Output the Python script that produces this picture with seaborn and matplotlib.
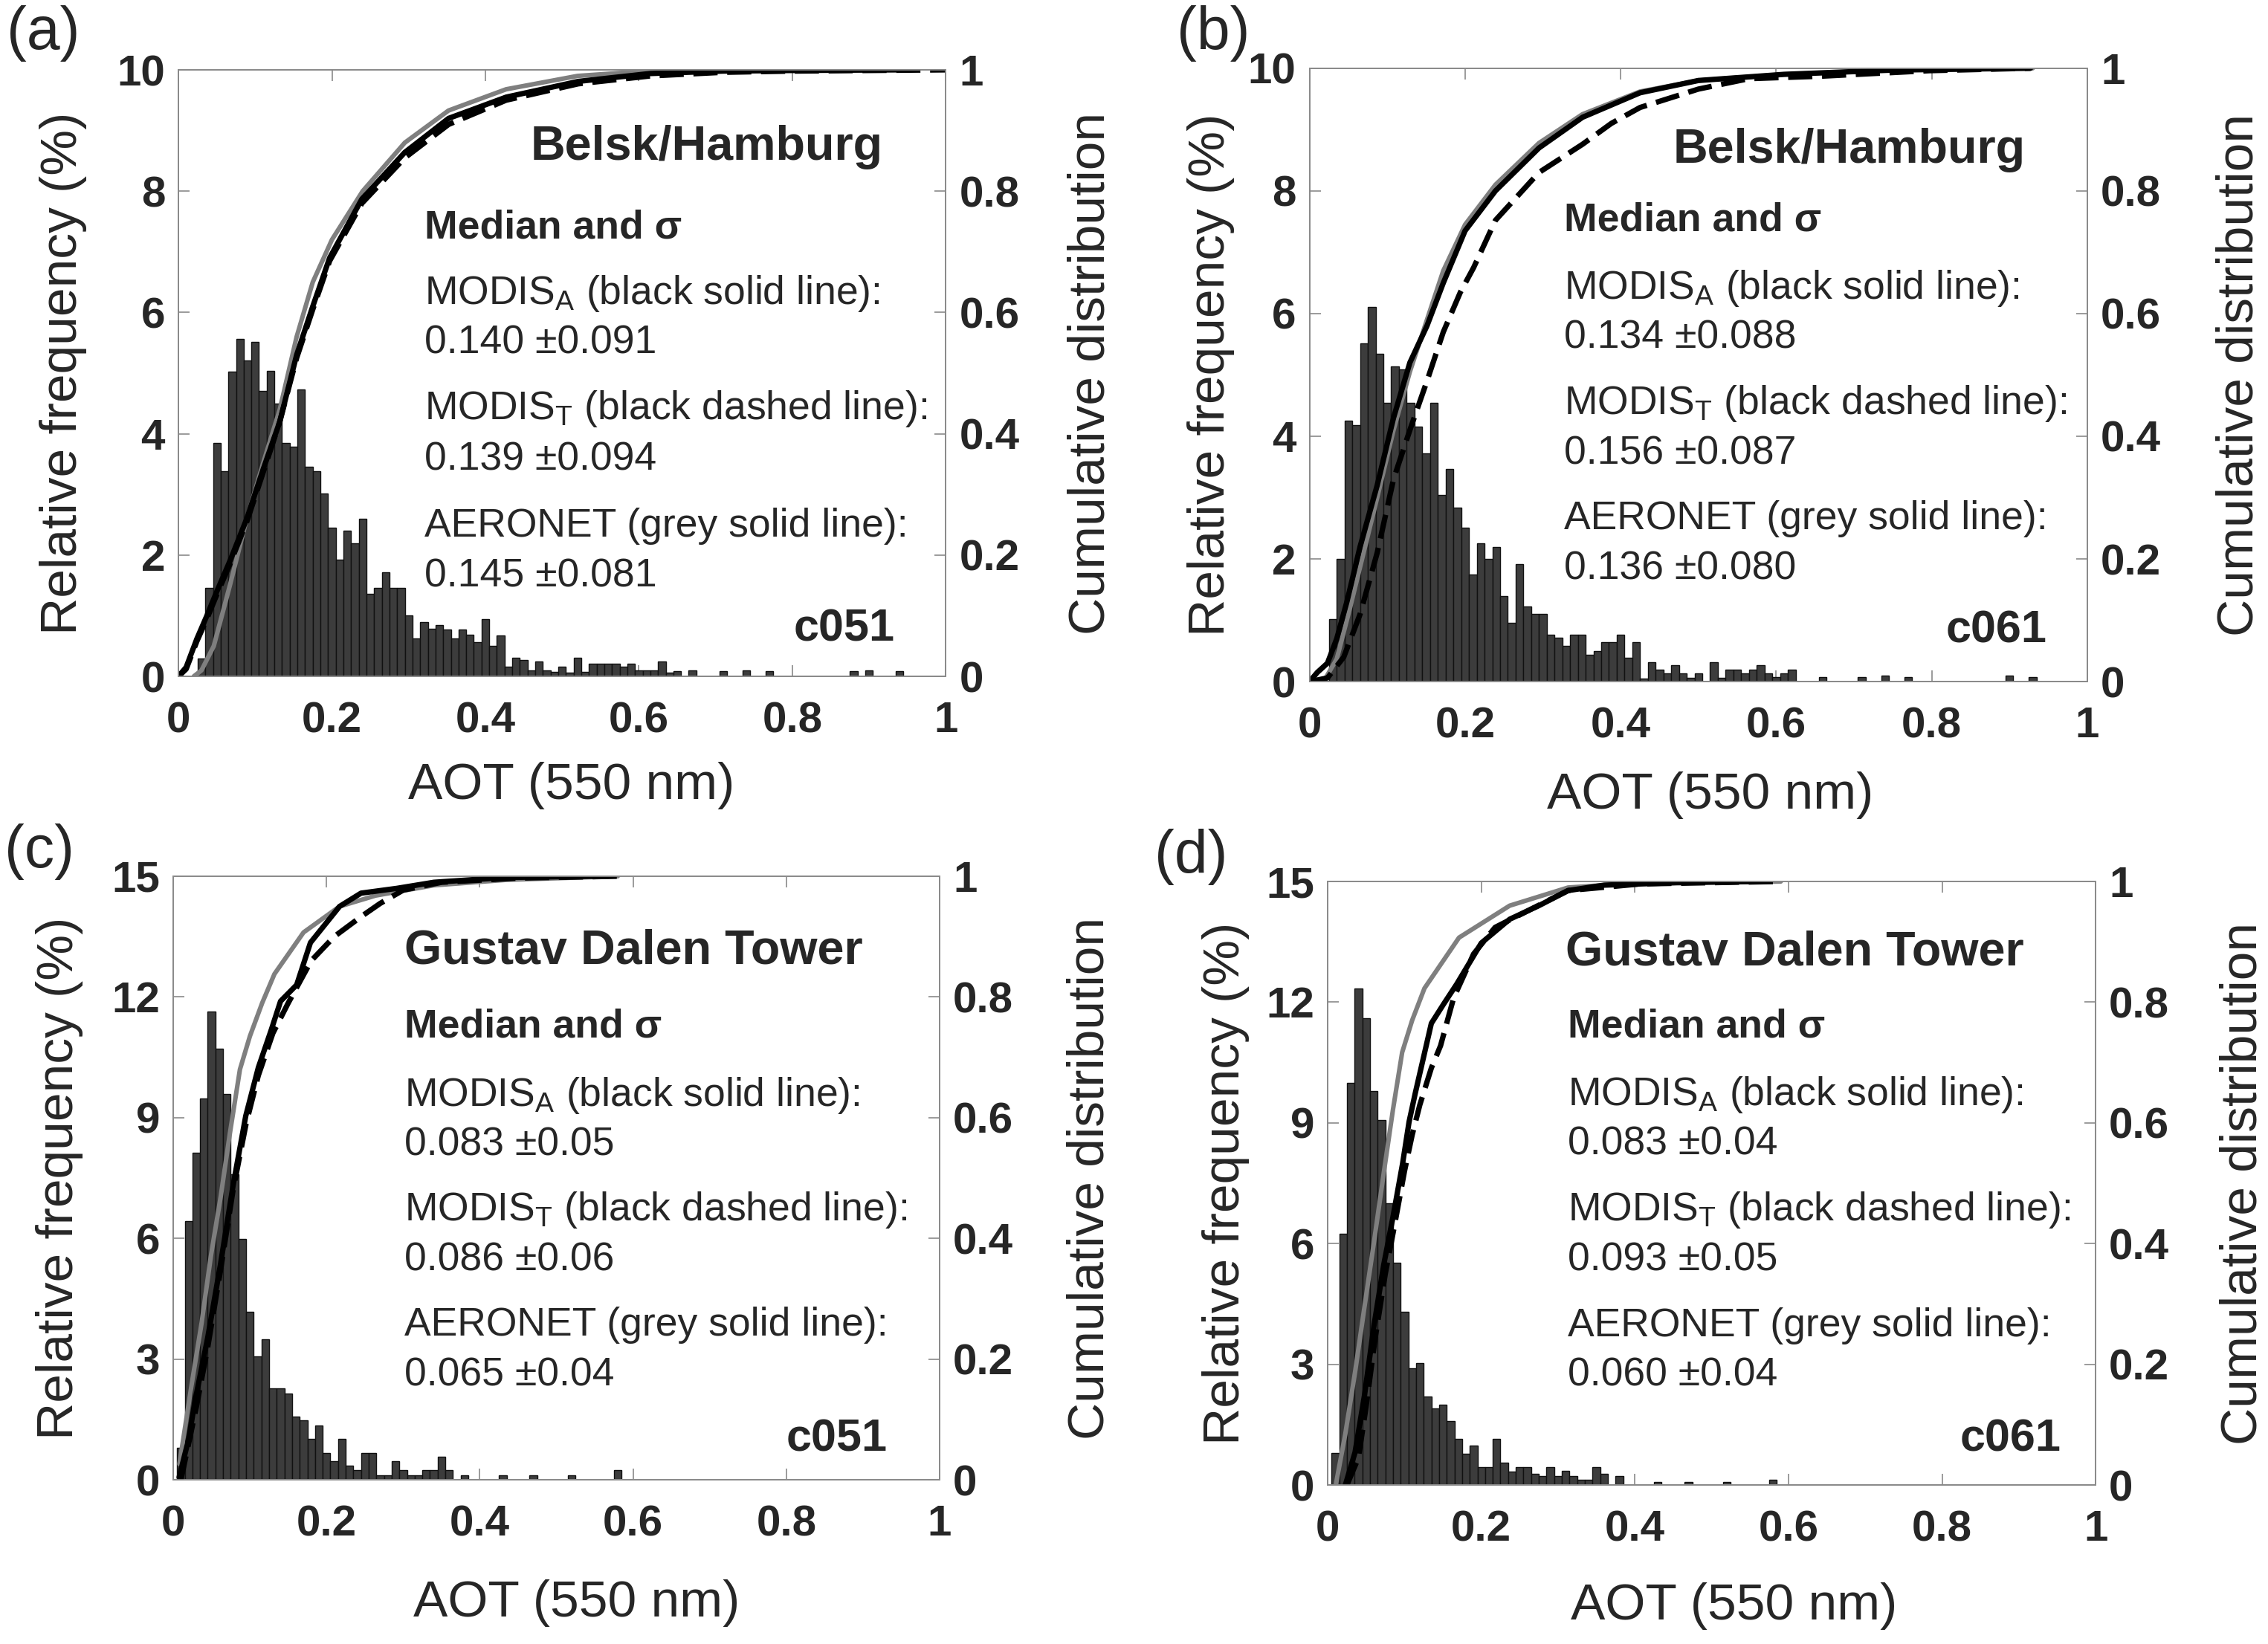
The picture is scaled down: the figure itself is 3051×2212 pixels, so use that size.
import numpy as np
import pandas as pd
import matplotlib
matplotlib.use("Agg")
import matplotlib.pyplot as plt
import seaborn as sns

sns.set_theme(style="white")
plt.rcParams['font.family'] = ['Liberation Sans', 'DejaVu Sans']
plt.rcParams['mathtext.fontset'] = 'custom'
plt.rcParams['mathtext.rm'] = 'Liberation Sans'
plt.rcParams['mathtext.it'] = 'Liberation Sans:italic'
plt.rcParams['mathtext.bf'] = 'Liberation Sans:bold'

# ---------------- data ----------------
# histogram: relative frequency (%) per 0.01 AOT bin (bin centres)
a_first_bin = 0.03
a_freq = [0.30, 1.46, 3.85, 3.38, 5.03, 5.56, 5.21, 5.52, 4.70, 5.04, 4.50, 3.85, 3.79, 4.73,
          3.45, 3.38, 3.01, 2.45, 1.92, 2.40, 2.19, 2.60, 1.36, 1.46, 1.71, 1.46, 1.46, 1.00,
          0.63, 0.89, 0.78, 0.84, 0.77, 0.62, 0.77, 0.69, 0.56, 0.94, 0.50, 0.68, 0.16, 0.31,
          0.27, 0.10, 0.25, 0.10, 0.07, 0.16, 0.06, 0.31, 0.07, 0.21, 0.21, 0.21, 0.21, 0.16,
          0.21, 0.10, 0.10, 0.10, 0.25, 0.06]
a_tail_aot = [0.65, 0.67, 0.71, 0.74, 0.77, 0.88, 0.90, 0.94]
a_tail_freq = [0.08, 0.10, 0.08, 0.10, 0.08, 0.08, 0.10, 0.08]

b_first_bin = 0.03
b_freq = [1.02, 2.00, 4.25, 4.18, 5.51, 6.11, 5.34, 4.55, 5.14, 5.09, 4.55, 4.16, 3.72, 4.55,
          3.04, 3.47, 2.84, 2.51, 1.75, 2.26, 2.00, 2.19, 1.40, 0.96, 1.92, 1.23, 1.10, 1.10,
          0.76, 0.71, 0.58, 0.76, 0.76, 0.44, 0.50, 0.64, 0.64, 0.76, 0.39, 0.64, 0.05, 0.32,
          0.19, 0.13, 0.27, 0.13, 0.06, 0.13, 0.00, 0.32, 0.06, 0.19, 0.19, 0.13, 0.19, 0.27,
          0.13, 0.07, 0.13, 0.19]
b_tail_aot = [0.66, 0.71, 0.74, 0.77, 0.90, 0.93]
b_tail_freq = [0.07, 0.07, 0.10, 0.07, 0.10, 0.07]

c_first_bin = 0.01
c_freq = [0.80, 6.42, 8.13, 9.47, 11.63, 10.72, 9.59, 7.60, 5.98, 4.17, 3.06, 3.50, 2.27, 2.27,
          2.14, 1.57, 1.48, 1.02, 1.35, 0.67, 0.46, 1.02, 0.35, 0.24, 0.67, 0.67, 0.12, 0.12,
          0.46, 0.24, 0.12, 0.12, 0.24, 0.24, 0.57, 0.24]
c_tail_aot = [0.38, 0.43, 0.47, 0.52, 0.58]
c_tail_freq = [0.12, 0.12, 0.12, 0.12, 0.24]

d_first_bin = 0.01
d_freq = [0.79, 6.24, 10.00, 12.35, 11.60, 9.79, 9.08, 7.01, 5.52, 4.30, 2.91, 3.04, 2.20, 1.91,
          1.99, 1.59, 1.15, 0.77, 0.99, 0.44, 0.44, 1.15, 0.56, 0.34, 0.44, 0.44, 0.28, 0.22,
          0.44, 0.22, 0.35, 0.22, 0.14, 0.14, 0.44, 0.28, 0.00, 0.22]
d_tail_aot = [0.43, 0.47, 0.52, 0.58]
d_tail_freq = [0.08, 0.08, 0.08, 0.14]

# cumulative distributions (AOT, cumulative fraction)
a_modisA_aot = [0.0, 0.01, 0.024, 0.037, 0.05, 0.067, 0.089, 0.11, 0.132, 0.154, 0.175, 0.197,
                0.239, 0.295, 0.352, 0.427, 0.521, 0.615, 0.71, 0.8, 0.935]
a_modisA_cdf = [0.0, 0.015, 0.062, 0.10, 0.14, 0.19, 0.26, 0.34, 0.42, 0.53, 0.61, 0.69,
                0.787, 0.864, 0.92, 0.955, 0.981, 0.994, 0.998, 0.999, 1.0]
a_modisT_aot = [0.0, 0.01, 0.024, 0.037, 0.05, 0.067, 0.089, 0.11, 0.132, 0.154, 0.175, 0.197,
                0.239, 0.295, 0.352, 0.427, 0.521, 0.615, 0.71, 0.8, 0.9, 1.0]
a_modisT_cdf = [0.0, 0.012, 0.058, 0.095, 0.135, 0.185, 0.255, 0.335, 0.42, 0.525, 0.605, 0.685,
                0.78, 0.855, 0.91, 0.95, 0.977, 0.99, 0.996, 0.998, 0.999, 1.0]
a_aeronet_aot = [0.02, 0.03, 0.046, 0.067, 0.089, 0.11, 0.132, 0.154, 0.175, 0.2, 0.24, 0.295,
                 0.352, 0.427, 0.52, 0.6, 0.7]
a_aeronet_cdf = [0.0, 0.01, 0.05, 0.15, 0.26, 0.35, 0.44, 0.56, 0.65, 0.72, 0.80, 0.88,
                 0.933, 0.968, 0.99, 0.997, 1.0]

b_modisA_aot = [0.0, 0.01, 0.023, 0.035, 0.048, 0.065, 0.087, 0.108, 0.129, 0.151, 0.172, 0.2,
                0.239, 0.295, 0.351, 0.425, 0.5, 0.61, 0.75, 0.927]
b_modisA_cdf = [0.0, 0.015, 0.03, 0.07, 0.13, 0.22, 0.32, 0.43, 0.52, 0.58, 0.65, 0.735,
                0.80, 0.87, 0.92, 0.96, 0.98, 0.99, 0.997, 1.0]
b_modisT_aot = [0.0, 0.023, 0.044, 0.065, 0.087, 0.108, 0.129, 0.151, 0.172, 0.194, 0.211, 0.239,
                0.295, 0.351, 0.388, 0.425, 0.5, 0.565, 0.658, 0.797, 0.927]
b_modisT_cdf = [0.0, 0.006, 0.04, 0.11, 0.21, 0.33, 0.41, 0.49, 0.57, 0.635, 0.675, 0.752,
                0.83, 0.876, 0.91, 0.936, 0.966, 0.983, 0.987, 0.996, 1.0]
b_aeronet_aot = [0.018, 0.035, 0.052, 0.087, 0.108, 0.129, 0.151, 0.172, 0.2, 0.239, 0.295,
                 0.351, 0.425, 0.5, 0.61, 0.75, 0.93]
b_aeronet_cdf = [0.0, 0.037, 0.12, 0.30, 0.41, 0.505, 0.59, 0.67, 0.745, 0.81, 0.878,
                 0.925, 0.962, 0.98, 0.99, 0.997, 1.0]

c_modisA_aot = [0.0076, 0.02, 0.0283, 0.0449, 0.0615, 0.0781, 0.0946, 0.111, 0.128, 0.14, 0.161,
                0.179, 0.217, 0.245, 0.292, 0.34, 0.434, 0.55]
c_modisA_cdf = [0.004, 0.067, 0.13, 0.235, 0.356, 0.488, 0.603, 0.683, 0.746, 0.793, 0.82,
                0.89, 0.95, 0.972, 0.98, 0.99, 0.998, 1.0]
c_modisT_aot = [0.01, 0.03, 0.045, 0.062, 0.078, 0.095, 0.111, 0.13, 0.15, 0.18, 0.21, 0.245,
                0.27, 0.30, 0.35, 0.45, 0.58]
c_modisT_cdf = [0.0, 0.12, 0.22, 0.35, 0.48, 0.59, 0.67, 0.74, 0.79, 0.86, 0.90, 0.933,
                0.955, 0.977, 0.99, 0.997, 1.0]
c_aeronet_aot = [0.008, 0.024, 0.037, 0.049, 0.062, 0.074, 0.087, 0.1, 0.116, 0.132, 0.17,
                 0.217, 0.264, 0.34, 0.434, 0.58]
c_aeronet_cdf = [0.026, 0.158, 0.26, 0.37, 0.47, 0.575, 0.68, 0.735, 0.79, 0.838, 0.907,
                 0.95, 0.968, 0.985, 0.994, 1.0]

d_modisA_aot = [0.023, 0.0356, 0.048, 0.0604, 0.073, 0.085, 0.0976, 0.106, 0.114, 0.135, 0.151,
                0.168, 0.2, 0.237, 0.275, 0.313, 0.36, 0.454, 0.557]
d_modisA_cdf = [0.0, 0.054, 0.149, 0.265, 0.365, 0.444, 0.533, 0.602, 0.649, 0.765, 0.797,
                0.83, 0.898, 0.9375, 0.96, 0.985, 0.994, 0.998, 1.0]
d_modisT_aot = [0.025, 0.04, 0.05, 0.062, 0.075, 0.087, 0.1, 0.11, 0.12, 0.135, 0.147, 0.156,
                0.164, 0.19, 0.218, 0.266, 0.313, 0.407, 0.586]
d_modisT_cdf = [0.0, 0.045, 0.13, 0.245, 0.35, 0.43, 0.52, 0.58, 0.63, 0.691, 0.728, 0.77,
                0.807, 0.88, 0.924, 0.955, 0.985, 0.996, 1.0]
d_aeronet_aot = [0.0107, 0.023, 0.036, 0.048, 0.06, 0.073, 0.085, 0.097, 0.11, 0.126, 0.171,
                 0.209, 0.237, 0.313, 0.407, 0.59]
d_aeronet_cdf = [0.001, 0.085, 0.19, 0.296, 0.40, 0.517, 0.622, 0.717, 0.77, 0.823, 0.907,
                 0.9375, 0.96, 0.99, 0.998, 1.0]

panel_letters = ['(a)', '(b)', '(c)', '(d)']
site_names = ['Belsk/Hamburg', 'Belsk/Hamburg', 'Gustav Dalen Tower', 'Gustav Dalen Tower']
collections = ['c051', 'c061', 'c051', 'c061']
modisA_stats = ['0.140 \u00b10.091', '0.134 \u00b10.088', '0.083 \u00b10.05', '0.083 \u00b10.04']
modisT_stats = ['0.139 \u00b10.094', '0.156 \u00b10.087', '0.086 \u00b10.06', '0.093 \u00b10.05']
aeronet_stats = ['0.145 \u00b10.081', '0.136 \u00b10.080', '0.065 \u00b10.04', '0.060 \u00b10.04']
x_ticks = [0, 0.2, 0.4, 0.6, 0.8, 1]
x_ticklabels = ['0', '0.2', '0.4', '0.6', '0.8', '1']
cdf_ticklabels = ['0', '0.2', '0.4', '0.6', '0.8', '1']
freq_ticks_top = [[0, 2, 4, 6, 8, 10], [0, 2, 4, 6, 8, 10], [0, 3, 6, 9, 12, 15], [0, 3, 6, 9, 12, 15]]

# ---------------- layout / style ----------------
rects = [[0.0787, 0.5886, 0.3383, 0.3689],
         [0.5774, 0.5854, 0.3429, 0.3731],
         [0.0764, 0.0999, 0.3379, 0.3671],
         [0.5854, 0.0967, 0.3386, 0.3671]]
letter_pos = [(0.003, 0.997), (0.519, 0.997), (0.002, 0.499), (0.509, 0.496)]
ylabel_x = [-0.119, -0.096, -0.117, -0.102]
y2label_x = [1.158, 1.165, 1.165, 1.161]
xlabel_pos = [(0.512, -0.141), (0.515, -0.146), (0.526, -0.165), (0.529, -0.161)]
title_pos = [(0.459, 0.852), (0.467, 0.846), (0.302, 0.855), (0.31, 0.862)]
text_x = [0.321, 0.327, 0.302, 0.313]
text_y = [[0.723, 0.614, 0.532, 0.4235, 0.340, 0.230, 0.148],
          [0.735, 0.624, 0.543, 0.436, 0.355, 0.248, 0.167],
          [0.733, 0.620, 0.538, 0.430, 0.347, 0.239, 0.156],
          [0.742, 0.630, 0.547, 0.438, 0.356, 0.247, 0.165]]
coll_pos = [(0.934, 0.058), (0.948, 0.064), (0.932, 0.048), (0.955, 0.056)]

BAR = '#3c3c3c'
GREY = '#7f7f7f'
SPINE = '#8a8a8a'
TICK_FS = 42
LABEL_FS = 50
TEXT_FS = 38.5

hist_data = [(a_first_bin, a_freq, a_tail_aot, a_tail_freq),
             (b_first_bin, b_freq, b_tail_aot, b_tail_freq),
             (c_first_bin, c_freq, c_tail_aot, c_tail_freq),
             (d_first_bin, d_freq, d_tail_aot, d_tail_freq)]
cdf_data = [((a_modisA_aot, a_modisA_cdf), (a_modisT_aot, a_modisT_cdf), (a_aeronet_aot, a_aeronet_cdf)),
            ((b_modisA_aot, b_modisA_cdf), (b_modisT_aot, b_modisT_cdf), (b_aeronet_aot, b_aeronet_cdf)),
            ((c_modisA_aot, c_modisA_cdf), (c_modisT_aot, c_modisT_cdf), (c_aeronet_aot, c_aeronet_cdf)),
            ((d_modisA_aot, d_modisA_cdf), (d_modisT_aot, d_modisT_cdf), (d_aeronet_aot, d_aeronet_cdf))]

fig = plt.figure(figsize=(30.51, 22.12), dpi=100)
fig.patch.set_facecolor('white')

for i in range(4):
    first, freq, tail_x, tail_f = hist_data[i]
    centers = [round(first + 0.01 * k, 2) for k in range(len(freq))] + list(tail_x)
    weights = list(freq) + list(tail_f)
    hdf = pd.DataFrame({'aot': centers, 'freq': weights})

    ax = fig.add_axes(rects[i])
    sns.histplot(data=hdf, x='aot', weights='freq', binwidth=0.01, binrange=(-0.005, 0.995),
                 stat='count', ax=ax, color=BAR, edgecolor='#111111', linewidth=1.0, alpha=1.0)
    ymax = freq_ticks_top[i][-1]
    ax.set_xlim(0, 1)
    ax.set_ylim(0, ymax)
    ax.set_xticks(x_ticks)
    ax.set_xticklabels(x_ticklabels, fontsize=TICK_FS, fontweight='bold')
    ax.set_yticks(freq_ticks_top[i])
    ax.set_yticklabels([str(t) for t in freq_ticks_top[i]], fontsize=TICK_FS, fontweight='bold')
    ax.tick_params(axis='x', direction='in', length=11, width=1.2, color=SPINE, pad=24,
                   top=True, bottom=True)
    ax.tick_params(axis='y', direction='in', length=11, width=1.2, color=SPINE, pad=13,
                   left=True, right=False)
    for sp in ax.spines.values():
        sp.set_color(SPINE)
        sp.set_linewidth(1.3)
    ax.set_xlabel('AOT (550 nm)', fontsize=LABEL_FS)
    ax.set_ylabel('Relative frequency (%)', fontsize=LABEL_FS)
    ax.xaxis.set_label_coords(*xlabel_pos[i])
    ax.yaxis.set_label_coords(ylabel_x[i], 0.5)
    ax.grid(False)

    ax2 = ax.twinx()
    (mA, mT, ae) = cdf_data[i]
    sns.lineplot(x=ae[0], y=ae[1], ax=ax2, color=GREY, linewidth=4.4, estimator=None, sort=False)
    sns.lineplot(x=mT[0], y=mT[1], ax=ax2, color='black', linewidth=5.2, estimator=None, sort=False)
    ax2.lines[-1].set_dashes([4.5, 1.8])
    sns.lineplot(x=mA[0], y=mA[1], ax=ax2, color='black', linewidth=5.2, estimator=None, sort=False)
    ax2.set_xlim(0, 1)
    ax2.set_ylim(0, 1)
    ax2.set_yticks(x_ticks)
    ax2.set_yticklabels(cdf_ticklabels, fontsize=TICK_FS, fontweight='bold')
    ax2.tick_params(axis='y', direction='in', length=11, width=1.2, color=SPINE, pad=13,
                    right=True, left=False)
    for sp in ax2.spines.values():
        sp.set_color(SPINE)
        sp.set_linewidth(1.3)
    ax2.set_ylabel('Cumulative distribution', fontsize=LABEL_FS)
    ax2.yaxis.set_label_coords(y2label_x[i], 0.5)
    ax2.set_xlabel('')
    ax2.grid(False)

    # annotations
    tx = text_x[i]
    ty = text_y[i]
    ax2.text(*title_pos[i], site_names[i], transform=ax2.transAxes, fontsize=46.5,
             fontweight='bold', ha='left', va='baseline')
    ax2.text(tx, ty[0], 'Median and \u03c3', transform=ax2.transAxes, fontsize=38.5,
             fontweight='bold', ha='left', va='baseline')
    ax2.text(tx, ty[1], r'MODIS$_\mathregular{A}$ (black solid line):', transform=ax2.transAxes,
             fontsize=TEXT_FS, ha='left', va='baseline')
    ax2.text(tx, ty[2], modisA_stats[i], transform=ax2.transAxes,
             fontsize=TEXT_FS, ha='left', va='baseline')
    ax2.text(tx, ty[3], r'MODIS$_\mathregular{T}$ (black dashed line):', transform=ax2.transAxes,
             fontsize=TEXT_FS, ha='left', va='baseline')
    ax2.text(tx, ty[4], modisT_stats[i], transform=ax2.transAxes,
             fontsize=TEXT_FS, ha='left', va='baseline')
    ax2.text(tx, ty[5], 'AERONET (grey solid line):', transform=ax2.transAxes,
             fontsize=TEXT_FS, ha='left', va='baseline')
    ax2.text(tx, ty[6], aeronet_stats[i], transform=ax2.transAxes,
             fontsize=TEXT_FS, ha='left', va='baseline')
    ax2.text(*coll_pos[i], collections[i], transform=ax2.transAxes, fontsize=44,
             fontweight='bold', ha='right', va='baseline')

    fig.text(letter_pos[i][0], letter_pos[i][1], panel_letters[i], fontsize=58,
             ha='left', va='top')

fig.savefig('out.png', dpi=100, facecolor='white')
